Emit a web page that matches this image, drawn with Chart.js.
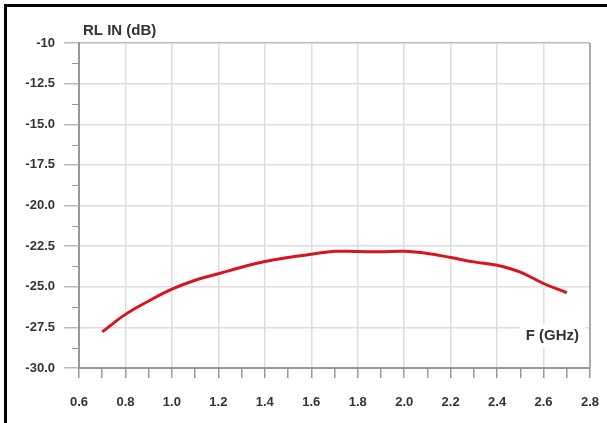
<!DOCTYPE html>
<html>
<head>
<meta charset="utf-8">
<script src="https://cdn.jsdelivr.net/npm/chart.js@4.4.1/dist/chart.umd.min.js"></script>
<style>
  html, body { margin: 0; padding: 0; background: #fff; }
  #wrap { position: relative; width: 607px; height: 423px; }
  #frame {
    position: absolute; left: 4px; top: 4px; width: 603px; height: 419px;
    border-left: 3px solid #000; border-top: 3px solid #000; pointer-events: none;
  }
</style>
</head>
<body>
<div id="wrap">
  <canvas id="myChart" width="607" height="423"></canvas>
  <div id="frame"></div>
</div>
<script>
const freqGHz = [0.7, 0.8, 0.9, 1.0, 1.1, 1.2, 1.3, 1.4, 1.5, 1.6, 1.7,
                 1.8, 1.9, 2.0, 2.1, 2.2, 2.3, 2.4, 2.5, 2.6, 2.7];
const rlInDb = [-27.78, -26.7, -25.88, -25.15, -24.6, -24.2, -23.8, -23.45, -23.2, -23.0, -22.82,
                -22.83, -22.85, -22.82, -22.95, -23.2, -23.47, -23.68, -24.1, -24.8, -25.37];
const yTickLabels = ["-10", "-12.5", "-15.0", "-17.5", "-20.0", "-22.5", "-25.0", "-27.5", "-30.0"];
const yAxisTitle = "RL IN (dB)";
const xAxisTitle = "F (GHz)";

const isMajorX = (v) => Math.round(v * 10) % 2 === 0;
const isMajorY = (v) => Math.abs(Math.round(v / 2.5) * 2.5 - v) < 1e-6;

const graphicElement = document.getElementById("myChart");

const extras = {
  id: "extras",
  afterDraw(chart) {
    const { ctx, chartArea, scales } = chart;
    const yScale = scales.y;
    ctx.save();
    // minor ticks on y axis
    ctx.strokeStyle = "#999";
    ctx.lineWidth = 1;
    yScale.ticks.forEach((t) => {
      if (isMajorY(t.value)) return;
      const py = Math.round(yScale.getPixelForValue(t.value)) + 0.5;
      ctx.beginPath();
      ctx.moveTo(chartArea.left - 7, py);
      ctx.lineTo(chartArea.left, py);
      ctx.stroke();
    });
    // right edge of plot
    ctx.strokeStyle = "#aaa";
    ctx.lineWidth = 2;
    ctx.beginPath();
    ctx.moveTo(chartArea.right, chartArea.top);
    ctx.lineTo(chartArea.right, chartArea.bottom);
    ctx.stroke();

    ctx.font = "bold 15px Arial, 'Liberation Sans', sans-serif";
    ctx.fillStyle = "#333";
    ctx.textBaseline = "middle";
    ctx.textAlign = "left";
    ctx.fillText(yAxisTitle, chartArea.left + 4, chartArea.top - 12);

    const w = ctx.measureText(xAxisTitle).width;
    const tx = chartArea.right - 11 - w;
    const ty = chartArea.bottom - 32;
    ctx.fillStyle = "#fff";
    ctx.fillRect(tx - 6, ty - 12, w + 12, 24);
    ctx.fillStyle = "#333";
    ctx.fillText(xAxisTitle, tx, ty);
    ctx.restore();
  }
};

new Chart(graphicElement, {
  type: "line",
  data: {
    datasets: [
      {
        label: yAxisTitle,
        data: freqGHz.map((f, i) => ({ x: f, y: rlInDb[i] })),
        borderColor: "#d8141c",
        borderWidth: 3,
        pointRadius: 0,
        tension: 0.4,
        fill: false,
      },
    ],
  },
  options: {
    responsive: false,
    animation: false,
    layout: { padding: { left: 0, top: 43, right: 17, bottom: 0 } },
    plugins: { legend: { display: false }, tooltip: { enabled: false } },
    scales: {
      x: {
        type: "linear",
        min: 0.6,
        max: 2.8,
        afterFit: (scale) => {
          scale.height = 55;
          scale.paddingLeft = 0;
          scale.paddingRight = 0;
        },
        ticks: {
          stepSize: 0.1,
          autoSkip: false,
          maxRotation: 0,
          padding: 17,
          color: "#333",
          font: { family: "Arial, 'Liberation Sans', sans-serif", size: 13, weight: "bold" },
          callback: (v) => (isMajorX(v) ? Number(v).toFixed(1) : ""),
        },
        grid: {
          color: (c) => (c.tick && isMajorX(c.tick.value) ? "#dedede" : "rgba(0,0,0,0)"),
          tickColor: "#999",
          tickLength: 10,
          lineWidth: 1.5,
        },
        border: { display: true, color: "#999", width: 2 },
      },
      y: {
        min: -30,
        max: -10,
        afterFit: (scale) => {
          scale.width = 79;
          scale.paddingTop = 0;
          scale.paddingBottom = 0;
        },
        ticks: {
          stepSize: 1.25,
          autoSkip: false,
          padding: 9,
          color: "#333",
          font: { family: "Arial, 'Liberation Sans', sans-serif", size: 13, weight: "bold" },
          callback: (v) => (isMajorY(v) ? yTickLabels[Math.round((-10 - v) / 2.5)] : ""),
        },
        grid: {
          color: (c) => {
            if (!c.tick || !isMajorY(c.tick.value)) return "rgba(0,0,0,0)";
            return c.tick.value === -10 ? "#bbb" : "#dedede";
          },
          tickColor: (c) => (c.tick && isMajorY(c.tick.value) ? "#bbb" : "rgba(0,0,0,0)"),
          tickLength: 15,
          lineWidth: 1.5,
        },
        border: { display: true, color: "#999", width: 2 },
      },
    },
  },
  plugins: [extras],
});
</script>
</body>
</html>
